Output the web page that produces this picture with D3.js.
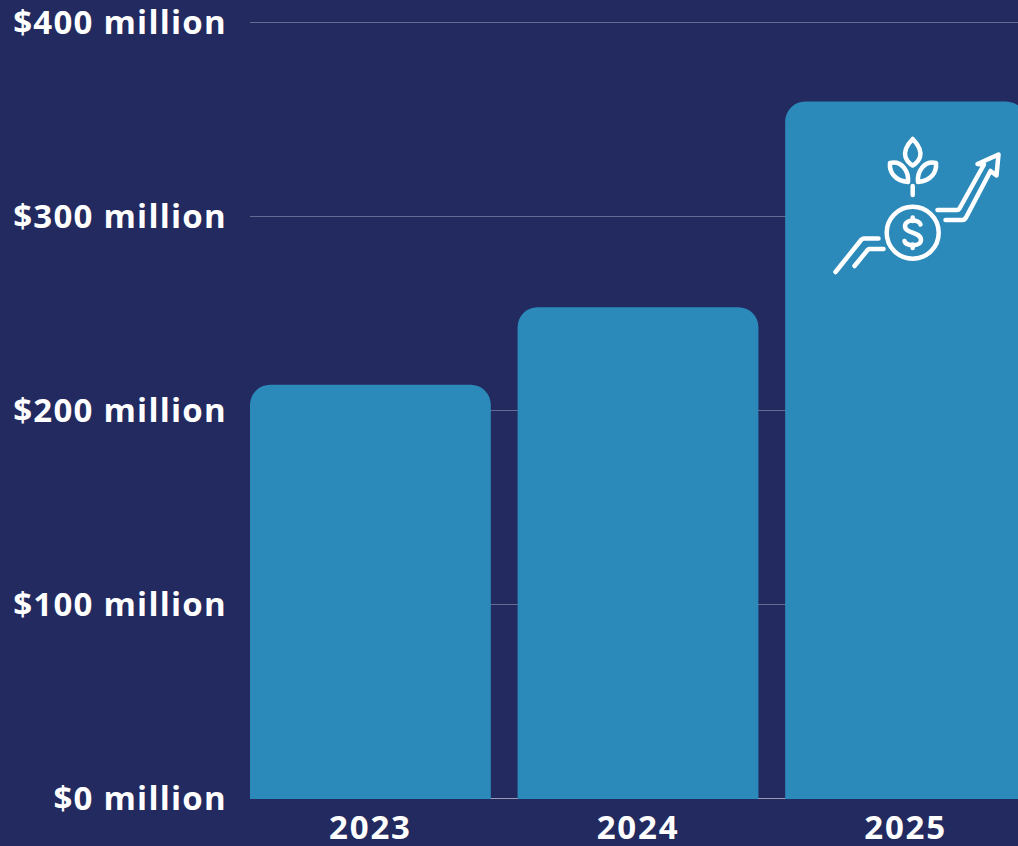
<!DOCTYPE html>
<html>
<head>
<meta charset="utf-8">
<script src="https://cdn.jsdelivr.net/npm/d3@7"></script>
<style>
  html, body { margin: 0; padding: 0; background: #222a5f; overflow: hidden; }
  svg { display: block; }
  text { font-family: "Open Sans", sans-serif; font-weight: 700; fill: #ffffff; }
</style>
</head>
<body>
<svg id="chart" width="1018" height="846"></svg>
<script>
const years = ["2023", "2024", "2025"];
const revenue = [213, 253, 359];
const yTicks = [0, 100, 200, 300, 400];

const barColor = "#2c8aba";
const gridColor = "#656a93";
const baselineColor = "#9a9db5";

const svg = d3.select("#chart");

const y = d3.scaleLinear().domain([0, 400]).range([798, 22]);
const x = d3.scaleBand().domain(years).range([250, 1026]).paddingInner(0.1).paddingOuter(0);

// Value axis: labels on the left, grid lines running across the plot
const yAxis = d3.axisLeft(y)
  .tickValues(yTicks)
  .tickSize(-(1018 - 250))
  .tickPadding(23)
  .tickFormat(d => `$${d} million`);

const yG = svg.append("g").attr("transform", "translate(250,0)").call(yAxis);
yG.select(".domain").remove();
yG.selectAll(".tick line")
  .attr("stroke", d => d === 0 ? baselineColor : gridColor)
  .attr("stroke-width", 1);
yG.selectAll(".tick text")
  .style("font-size", "33px")
  .style("letter-spacing", "1.25px")
  .attr("dy", "0.35em");

// Bars with rounded top corners only; the foot sits just over the baseline
const radius = 20;
svg.append("g").selectAll("path")
  .data(years.map((year, i) => ({ year, value: revenue[i] })))
  .join("path")
  .attr("fill", barColor)
  .attr("d", d => {
    const x0 = x(d.year), x1 = x0 + x.bandwidth();
    const top = y(d.value), bottom = y(0) + 1;
    const p = d3.path();
    p.moveTo(x0, bottom);
    p.lineTo(x0, top + radius);
    p.arcTo(x0, top, x0 + radius, top, radius);
    p.lineTo(x1 - radius, top);
    p.arcTo(x1, top, x1, top + radius, radius);
    p.lineTo(x1, bottom);
    p.closePath();
    return p.toString();
  });

// Category labels below the bars
const xAxis = d3.axisBottom(x).tickSize(0).tickPadding(18);
const xG = svg.append("g").attr("transform", `translate(0,${y(0)})`).call(xAxis);
xG.select(".domain").remove();
xG.selectAll(".tick text").style("font-size", "33px").style("letter-spacing", "1.8px").attr("dy", "0.71em");

// Growth icon: coin, sprout and rising arrow
const icon = svg.append("g")
  .attr("fill", "none")
  .attr("stroke", "#ffffff")
  .attr("stroke-width", 4.5)
  .attr("stroke-linecap", "round")
  .attr("stroke-linejoin", "round");

icon.append("circle").attr("cx", 912.7).attr("cy", 232.7).attr("r", 26);
[
  // dollar sign
  "M920.5 224.5 C919.5 219.5 905.5 218.5 905 226 C904.5 234 921 231 921 240 C921 247 905.5 246.5 904.5 241",
  "M912.7 217.5 V221", "M912.7 244.5 V248",
  // stem and leaves
  "M912.7 186 V195",
  "M912.7 139 C906 146 904 152 905.5 157 C907 161 910 164 912.7 165.5 C915.5 164 918.5 161 920 157 C921.5 152 919.5 146 912.7 139 Z",
  "M890 163 C889 172 895 181 908 182 C909 172 902 160 890 163 Z",
  "M936 163 C937 172 931 181 918 182 C917 172 924 160 936 163 Z",
  // arrow trail before the coin
  "M835.5 272 L861.5 239.5 Q862.5 238.5 864 238.5 H878.5",
  "M854.5 266 L868 249.5 Q868.5 249 870 249 H883.5",
  // rising arrow after the coin
  "M937.5 210 H957 Q958.5 210 959.5 208.5 L984 164.5 L977.5 164 L998.5 154.5 L996.5 175.5 L990.5 171 L966 217.5 Q964.5 220 962.5 220 H945.5"
].forEach(d => icon.append("path").attr("d", d));
</script>
</body>
</html>
